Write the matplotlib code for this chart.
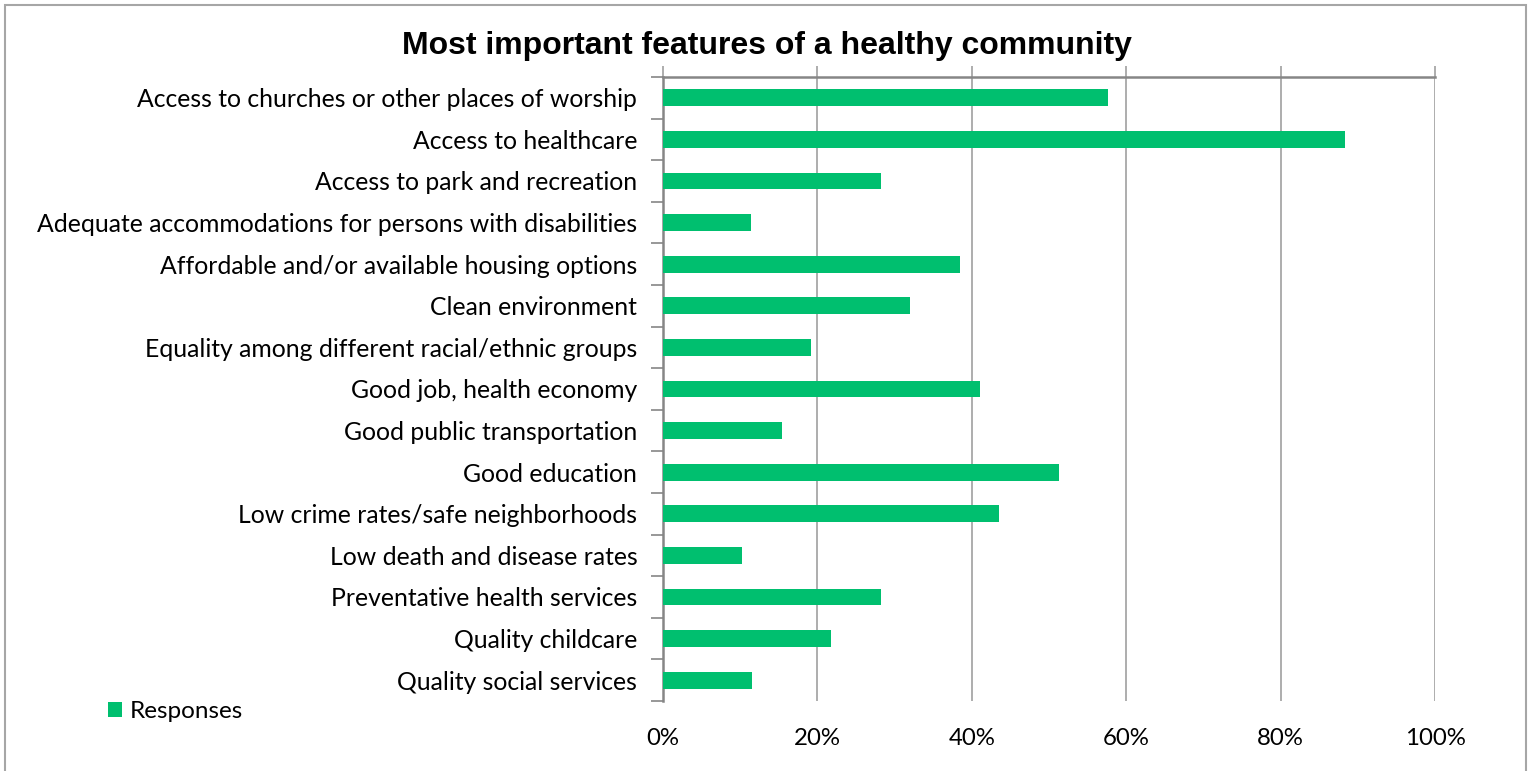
import matplotlib
matplotlib.use("Agg")
import matplotlib.pyplot as plt
from matplotlib.patches import Rectangle
from matplotlib.ticker import PercentFormatter, FixedLocator

categories = [
    "Access to churches or other places of worship",
    "Access to healthcare",
    "Access to park and recreation",
    "Adequate accommodations for persons with disabilities",
    "Affordable and/or available housing options",
    "Clean environment",
    "Equality among different racial/ethnic groups",
    "Good job, health economy",
    "Good public transportation",
    "Good education",
    "Low crime rates/safe neighborhoods",
    "Low death and disease rates",
    "Preventative health services",
    "Quality childcare",
    "Quality social services",
]
responses = [57.6, 88.4, 28.2, 11.4, 38.5, 32.0, 19.2, 41.1, 15.4, 51.3, 43.5, 10.2, 28.2, 21.8, 11.5]
xticks = [0, 20, 40, 60, 80, 100]

plt.rcParams['font.family'] = ['Lato', 'DejaVu Sans']

W, H = 1533, 771
fig = plt.figure(figsize=(W / 100, H / 100), dpi=100)
ax = fig.add_axes([663 / W, 1 - 701 / H, (1435 - 663) / W, (701 - 77) / H])

green = "#00BF6F"
ypos = list(range(len(categories)))
ax.barh(ypos, responses, height=0.4, color=green, label="Responses", zorder=3)
ax.set_ylim(len(categories) - 0.5, -0.5)
ax.set_xlim(0, 100)

ax.set_yticks(ypos)
ax.set_yticklabels(categories, fontsize=17.8, color="#000000")
ax.yaxis.set_minor_locator(FixedLocator([i - 0.5 for i in range(len(categories) + 1)]))
ax.tick_params(axis="y", which="major", length=0, pad=18.5)
ax.tick_params(axis="y", which="minor", length=9, width=1.2, color="#868686")

ax.set_xticks(xticks)
ax.xaxis.set_major_formatter(PercentFormatter(decimals=0))
ax.tick_params(axis="x", which="major", length=0, labelsize=17.3, pad=19.5, labelcolor="#000000")

ax.grid(axis="x", color="#A0A0A0", linewidth=1.2, zorder=0)
for s in ["right", "bottom"]:
    ax.spines[s].set_visible(False)
ax.spines["top"].set_color("#868686")
ax.spines["top"].set_linewidth(1.8)
ax.spines["left"].set_color("#868686")
ax.spines["left"].set_linewidth(1.8)

ax2 = ax.secondary_xaxis("top")
ax2.set_xticks(xticks)
ax2.set_xticklabels([])
ax2.tick_params(axis="x", length=8, width=1.2, color="#A0A0A0")
ax2.spines["top"].set_visible(False)

fig.text(767 / W, 1 - 46 / H, "Most important features of a healthy community",
         ha="center", va="center", fontsize=23, fontweight="bold",
         family=["Liberation Sans", "DejaVu Sans"])

fig.legend(loc="center left", bbox_to_anchor=(108 / W, 1 - 712 / H), frameon=False,
           fontsize=17.5, handlelength=0.58, handleheight=0.58, handletextpad=0.3,
           borderaxespad=0, borderpad=0)

fig.patches.append(Rectangle((5 / W, -0.1), (1526 - 5) / W, 1 - 5 / H + 0.1,
                             transform=fig.transFigure, fill=False,
                             edgecolor="#A6A6A6", linewidth=1.5))

fig.savefig("out.png", dpi=100)
